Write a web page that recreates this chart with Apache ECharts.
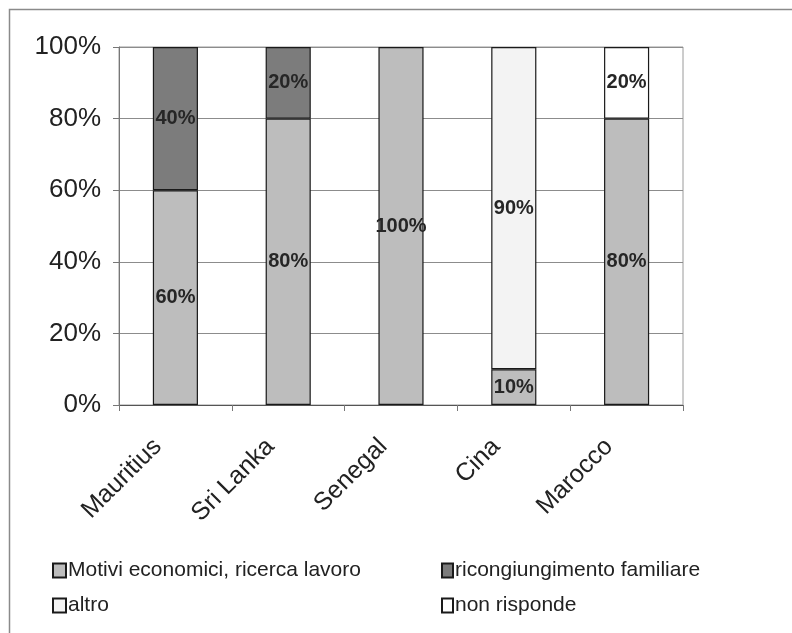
<!DOCTYPE html>
<html>
<head>
<meta charset="utf-8">
<script src="https://cdn.jsdelivr.net/npm/echarts@6/dist/echarts.min.js"></script>
<style>
  html, body { margin: 0; padding: 0; background: #fff; }
  #chart { width: 792px; height: 633px; }
</style>
</head>
<body>
<div id="chart"></div>
<script>
// Countries on the category axis
const countries = ['Mauritius', 'Sri Lanka', 'Senegal', 'Cina', 'Marocco'];

// Share of answers (percent) per reason of migration
const motiviEconomici = [60, 80, 100, 10, 80];
const ricongiungimento = [40, 20, 0, 0, 0];
const altro = [0, 0, 0, 90, 0];
const nonRisponde = [0, 0, 0, 0, 20];

// Value-axis tick labels
const yTicks = [0, 20, 40, 60, 80, 100];

const FONT = 'Liberation Sans, Arial, sans-serif';

function seriesOf(name, values, color) {
  return {
    name: name,
    type: 'bar',
    stack: 'total',
    barWidth: '40%',
    data: values.map(v => (v === 0 ? '-' : v)),
    itemStyle: { color: color, borderColor: '#1a1a1a', borderWidth: 1.2 },
    label: {
      show: true,
      position: 'inside',
      formatter: p => p.value + '%',
      fontFamily: FONT,
      fontWeight: 'bold',
      fontSize: 20,
      color: '#262626'
    }
  };
}

const chart = echarts.init(document.getElementById('chart'), null, { renderer: 'canvas' });

chart.setOption({
  backgroundColor: '#fff',
  animation: false,
  textStyle: { fontFamily: FONT },
  graphic: [{
    type: 'rect',
    shape: { x: 9.5, y: 9.5, width: 800, height: 700 },
    style: { fill: 'none', stroke: '#8a8a8a', lineWidth: 1.5 },
    silent: true
  }],
  grid: {
    left: 119, right: 109, top: 47, bottom: 228,
    show: true, borderColor: '#9a9a9a', borderWidth: 1,
    backgroundColor: 'transparent'
  },
  xAxis: {
    type: 'category',
    data: countries,
    axisLine: { lineStyle: { color: '#555', width: 1.2 } },
    axisTick: { show: true, length: 6, lineStyle: { color: '#777' } },
    axisLabel: {
      rotate: 45, margin: 20, fontSize: 25, color: '#222', fontFamily: FONT,
      padding: [0, 25, 0, 0]
    }
  },
  yAxis: {
    type: 'value',
    min: yTicks[0],
    max: yTicks[yTicks.length - 1],
    interval: yTicks[1] - yTicks[0],
    axisLine: { show: true, lineStyle: { color: '#777' } },
    axisTick: { show: true, length: 6, lineStyle: { color: '#777' } },
    splitLine: { lineStyle: { color: '#8c8c8c', width: 1 } },
    axisLabel: {
      formatter: '{value}%', fontSize: 26, color: '#222', margin: 18, fontFamily: FONT
    }
  },
  legend: [
    {
      orient: 'vertical', left: 47, top: 555, itemGap: 14,
      itemWidth: 13, itemHeight: 14, icon: 'rect',
      textStyle: { fontSize: 21, color: '#222', fontFamily: FONT, padding: [0, 0, 0, -3] },
      data: ['Motivi economici, ricerca lavoro', 'altro']
    },
    {
      orient: 'vertical', left: 436, top: 555, itemGap: 14,
      itemWidth: 11, itemHeight: 14, icon: 'rect',
      textStyle: { fontSize: 21, color: '#222', fontFamily: FONT, padding: [0, 0, 0, -3] },
      data: ['ricongiungimento familiare', 'non risponde']
    }
  ],
  series: [
    seriesOf('Motivi economici, ricerca lavoro', motiviEconomici, '#bdbdbd'),
    seriesOf('ricongiungimento familiare', ricongiungimento, '#7c7c7c'),
    seriesOf('altro', altro, '#f3f3f3'),
    seriesOf('non risponde', nonRisponde, '#ffffff')
  ]
});
</script>
</body>
</html>
